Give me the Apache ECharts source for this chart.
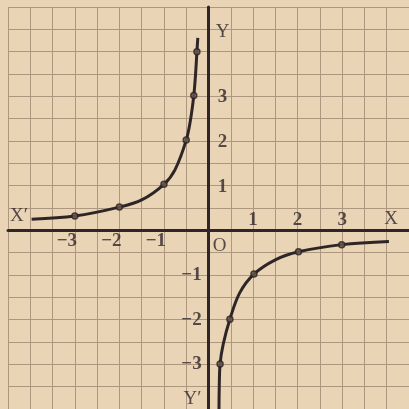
<!DOCTYPE html>
<html>
<head>
<meta charset="utf-8">
<script src="https://cdn.jsdelivr.net/npm/echarts@6/dist/echarts.min.js"></script>
<style>
  html, body { margin: 0; padding: 0; background: #e9d4b5; }
  #chart { width: 409px; height: 409px; }
</style>
</head>
<body>
<div id="chart"></div>
<script>
// curve (x, y)
var leftBranch = [[-3.97, 0.25], [-3, 0.32], [-2, 0.52], [-1.5, 0.68], [-1, 1.03], [-0.75, 1.36],
    [-0.5, 2.02], [-0.4, 2.5], [-0.33, 3.02], [-0.29, 3.5], [-0.26, 4.0], [-0.24, 4.31]];
var rightBranch = [[0.235, -4.1], [0.24, -3.6], [0.26, -2.99], [0.33, -2.55], [0.48, -1.99],
    [0.7, -1.4], [1.02, -0.98], [1.5, -0.66], [2.02, -0.48], [2.99, -0.32], [4.05, -0.25]];
// marked dots
var leftDots = [[-3, 0.32], [-2, 0.52], [-1, 1.03], [-0.5, 2.02], [-0.33, 3.02], [-0.26, 4.0]];
var rightDots = [[0.26, -2.99], [0.48, -1.99], [1.02, -0.98], [2.02, -0.48], [2.99, -0.32]];

// tick labels
var xNegTicks = [-3, -2, -1];
var xPosTicks = [1, 2, 3];
var yPosTicks = [1, 2, 3];
var yNegTicks = [-1, -2, -3];

var ink = '#30262a';
var font = 'Liberation Serif';

var chart = echarts.init(document.getElementById('chart'));

function minus(v) {
    return v < 0 ? '\u2212' + Math.abs(v) : String(v);
}

function tickSeries(vals, axis, offset) {
    return {
        type: 'scatter',
        symbolSize: 0,
        silent: true,
        data: vals.map(function (v) {
            return axis == 'x' ? [v, 0] : [0, v];
        }),
        label: {
            show: true,
            position: 'inside',
            offset: offset,
            formatter: function (p) {
                return minus(axis == 'x' ? p.value[0] : p.value[1]);
            },
            color: ink,
            fontFamily: font,
            fontWeight: 'bold',
            fontSize: 19
        }
    };
}

// axis letters: [x, y, text, dx, dy]
var letters = [
    [4.5, 0, 'X', -18, -11],
    [-4.5, 0, 'X\u2032', 11, -14],
    [0, 5, 'Y', 14, 25],
    [0, -4, 'Y\u2032', -16, -10],
    [0, 0, 'O', 11, 16]
];

var letterSeries = letters.map(function (l) {
    return {
        type: 'scatter',
        symbolSize: 0,
        silent: true,
        data: [[l[0], l[1]]],
        label: {
            show: true,
            position: 'inside',
            offset: [l[3], l[4]],
            formatter: l[2],
            color: ink,
            fontFamily: font,
            fontSize: 19
        }
    };
});

function lineSeries(data) {
    return {
        type: 'line',
        data: data,
        smooth: 0.35,
        showSymbol: false,
        silent: true,
        clip: false,
        lineStyle: { color: '#2e2626', width: 3 }
    };
}

function dotSeries(data) {
    return {
        type: 'scatter',
        data: data,
        symbol: 'circle',
        symbolSize: 6,
        silent: true,
        itemStyle: { color: '#6a5a50', borderColor: '#2a2222', borderWidth: 1.5 },
        z: 5
    };
}

var option = {
    backgroundColor: '#e9d4b5',
    animation: false,
    grid: { left: 8, top: 7, width: 403.2, height: 403.2 },
    xAxis: {
        type: 'value',
        min: -4.5,
        max: 4.5,
        interval: 0.5,
        axisLine: { show: true, onZero: true, lineStyle: { color: ink, width: 3 } },
        axisTick: { show: false },
        axisLabel: { show: false },
        splitLine: { show: true, lineStyle: { color: '#ad987f', width: 1 } }
    },
    yAxis: {
        type: 'value',
        min: -4,
        max: 5,
        interval: 0.5,
        axisLine: { show: true, onZero: true, lineStyle: { color: ink, width: 3 } },
        axisTick: { show: false },
        axisLabel: { show: false },
        splitLine: { show: true, lineStyle: { color: '#ad987f', width: 1 } }
    },
    series: [
        lineSeries(leftBranch),
        lineSeries(rightBranch),
        dotSeries(leftDots),
        dotSeries(rightDots),
        tickSeries(xNegTicks, 'x', [-8, 11]),
        tickSeries(xPosTicks, 'x', [0, -10]),
        tickSeries(yPosTicks, 'y', [14, 1]),
        tickSeries(yNegTicks, 'y', [-17, 0])
    ].concat(letterSeries)
};

chart.setOption(option);
</script>
</body>
</html>
